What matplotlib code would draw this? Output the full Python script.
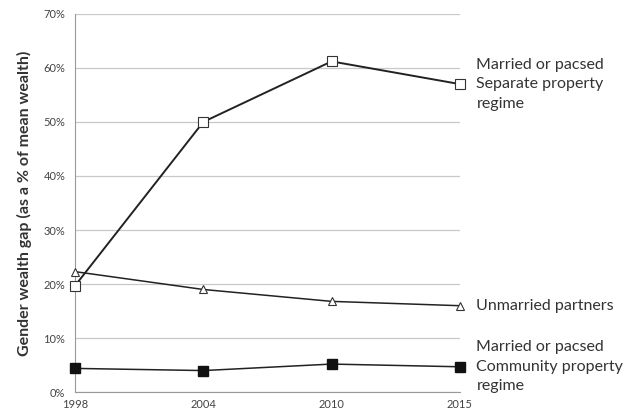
import matplotlib.pyplot as plt
import numpy as np

years = ["1998", "2004", "2010", "2015"]
separate = [19.7, 50.0, 61.2, 57.0]
unmarried = [22.3, 19.0, 16.8, 16.0]
community = [4.4, 4.0, 5.2, 4.7]

series_labels = ["Married or pacsed\nSeparate property\nregime",
                 "Unmarried partners",
                 "Married or pacsed\nCommunity property\nregime"]

plt.rcParams['font.family'] = ['Lato', 'DejaVu Sans']

fig = plt.figure(figsize=(6.36, 4.19), dpi=100)
ax = fig.add_axes([0.118, 0.064, 0.605, 0.903])

x = np.arange(len(years))
ax.plot(x, separate, color="#222222", lw=1.4, marker="s", ms=7,
        mfc="white", mec="#333333", mew=0.8, zorder=3, clip_on=False)
ax.plot(x, unmarried, color="#222222", lw=1.1, marker="^", ms=6,
        mfc="white", mec="#333333", mew=0.8, zorder=3, clip_on=False)
ax.plot(x, community, color="#222222", lw=1.1, marker="s", ms=7,
        mfc="#111111", mec="#111111", zorder=3, clip_on=False)

ax.set_xlim(0, 3)
ax.set_ylim(0, 70)
ax.set_yticks(range(0, 71, 10))
ax.set_yticklabels([f"{v}%" for v in range(0, 71, 10)])
ax.set_xticks(x)
ax.set_xticklabels(years)
ax.yaxis.grid(True, color="#c8c8c8", lw=0.9)
ax.set_axisbelow(True)
for s in ["top", "right"]:
    ax.spines[s].set_visible(False)
for s in ["left", "bottom"]:
    ax.spines[s].set_color("#999999")
ax.tick_params(length=0, labelsize=8, colors="#444444", pad=7)
ax.tick_params(axis="x", pad=5)
ax.set_ylabel("Gender wealth gap (as a % of mean wealth)", fontsize=11.5,
              fontweight="bold", color="#333333", labelpad=8)

for vals, lab in zip([separate, unmarried, community], series_labels):
    ax.annotate(lab, xy=(3, vals[-1]), xytext=(12, 0),
                textcoords="offset points", va="center", ha="left",
                fontsize=11.5, color="#333333", annotation_clip=False,
                linespacing=1.5)

fig.savefig("out.png", dpi=100)
